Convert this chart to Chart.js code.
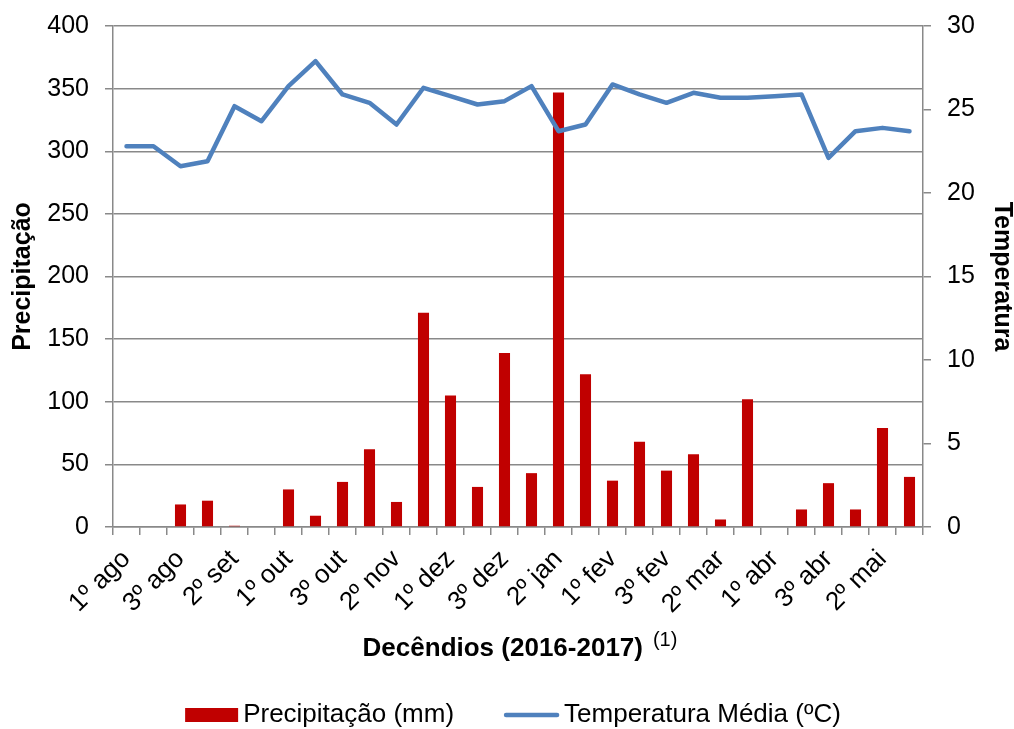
<!DOCTYPE html>
<html>
<head>
<meta charset="utf-8">
<script src="https://cdn.jsdelivr.net/npm/chart.js@4.4.1/dist/chart.umd.min.js"></script>
<style>
  html, body { margin: 0; padding: 0; background: #fff; }
  #wrap { width: 1014px; height: 729px; position: relative; }
</style>
</head>
<body>
<div id="wrap"><canvas id="c"></canvas></div>
<script>
const categories = ["1º ago","2º ago","3º ago","1º set","2º set","3º set","1º out","2º out","3º out","1º nov","2º nov","3º nov","1º dez","2º dez","3º dez","1º jan","2º jan","3º jan","1º fev","2º fev","3º fev","1º mar","2º mar","3º mar","1º abr","2º abr","3º abr","1º mai","2º mai","3º mai"];
const precipitacao = [0,0,18,21,1,0,30,9,36,62,20,171,105,32,139,43,347,122,37,68,45,58,6,102,0,14,35,14,79,40];
const temperatura = [22.8,22.8,21.6,21.9,25.2,24.3,26.4,27.9,25.9,25.4,24.1,26.3,25.8,25.3,25.5,26.4,23.7,24.1,26.5,25.9,25.4,26.0,25.7,25.7,25.8,25.9,22.1,23.7,23.9,23.7];
const precipTicks = [0,50,100,150,200,250,300,350,400];
const tempTicks = [0,5,10,15,20,25,30];
const seriesLabels = ["Precipitação (mm)", "Temperatura Média (ºC)"];
const axisTitles = { x: "Decêndios (2016-2017)", xNote: "(1)", yLeft: "Precipitação", yRight: "Temperatura" };

const FONT = '"Liberation Sans", Arial, sans-serif';
const GRID = '#898989';
const RED = '#C00000';
const BLUE = '#4F81BD';

const extras = {
  id: 'extras',
  afterDraw(chart) {
    const ctx = chart.ctx, ca = chart.chartArea;
    const midY = (ca.top + ca.bottom) / 2;
    const midX = (ca.left + ca.right) / 2;
    ctx.save();
    ctx.fillStyle = '#000';
    // right axis tick labels (left aligned)
    const y1 = chart.scales.y1;
    ctx.font = '25px ' + FONT;
    ctx.textAlign = 'left';
    ctx.textBaseline = 'middle';
    tempTicks.forEach(v => ctx.fillText(String(v), ca.right + 24, y1.getPixelForValue(v)));
    ctx.font = 'bold 25px ' + FONT;
    ctx.textAlign = 'center';
    ctx.textBaseline = 'middle';
    // left title
    ctx.save();
    ctx.translate(23, midY);
    ctx.rotate(-Math.PI / 2);
    ctx.fillText(axisTitles.yLeft, 0, 0);
    ctx.restore();
    // right title
    ctx.save();
    ctx.translate(1002, midY);
    ctx.rotate(Math.PI / 2);
    ctx.fillText(axisTitles.yRight, 0, 0);
    ctx.restore();
    // x title + superscript note
    ctx.textAlign = 'left';
    ctx.textBaseline = 'alphabetic';
    ctx.font = 'bold 26px ' + FONT;
    const mainW = ctx.measureText(axisTitles.x).width;
    ctx.font = '20px ' + FONT;
    const noteW = ctx.measureText(axisTitles.xNote).width;
    const gap = 10;
    const x0 = midX - (mainW + gap + noteW) / 2 + 2;
    ctx.font = 'bold 26px ' + FONT;
    ctx.fillText(axisTitles.x, x0, 656);
    ctx.font = '20px ' + FONT;
    ctx.fillText(axisTitles.xNote, x0 + mainW + gap, 646);
    // legend
    ctx.font = '26px ' + FONT;
    ctx.textBaseline = 'middle';
    const ly = 715;
    const boxW = 53, lineW = 55, sp = 5, between = 50;
    const t1 = ctx.measureText(seriesLabels[0]).width;
    const t2 = ctx.measureText(seriesLabels[1]).width;
    const total = boxW + sp + t1 + between + lineW + sp + t2;
    let x = midX - total / 2 - 5;
    ctx.fillStyle = RED;
    ctx.fillRect(x, ly - 7, boxW, 14);
    x += boxW + sp;
    ctx.fillStyle = '#000';
    ctx.fillText(seriesLabels[0], x, ly);
    x += t1 + between;
    ctx.strokeStyle = BLUE;
    ctx.lineWidth = 4.5;
    ctx.lineCap = 'round';
    ctx.beginPath();
    ctx.moveTo(x + 2, ly);
    ctx.lineTo(x + lineW - 2, ly);
    ctx.stroke();
    x += lineW + sp;
    ctx.fillText(seriesLabels[1], x, ly);
    ctx.restore();
  }
};

new Chart(document.getElementById('c'), {
  data: {
    labels: categories,
    datasets: [
      {
        type: 'line',
        label: seriesLabels[1],
        data: temperatura,
        yAxisID: 'y1',
        borderColor: BLUE,
        backgroundColor: BLUE,
        borderWidth: 4.5,
        pointRadius: 0,
        tension: 0,
        borderCapStyle: 'round',
        borderJoinStyle: 'round',
        order: 0
      },
      {
        type: 'bar',
        label: seriesLabels[0],
        data: precipitacao,
        yAxisID: 'y',
        backgroundColor: RED,
        barPercentage: 0.41,
        categoryPercentage: 1.0,
        order: 1
      }
    ]
  },
  options: {
    responsive: true,
    maintainAspectRatio: false,
    animation: false,
    layout: { padding: { top: 26, left: 0, right: 0, bottom: 0 } },
    plugins: { legend: { display: false }, tooltip: { enabled: false } },
    scales: {
      x: {
        offset: true,
        grid: { offset: true, drawOnChartArea: false, color: GRID, lineWidth: 1.5, tickLength: 8 },
        border: { color: GRID, width: 1.5 },
        ticks: {
          autoSkip: false,
          minRotation: 45, maxRotation: 45,
          padding: 9,
          color: '#000',
          font: { family: FONT, size: 26 },
          callback: function (v, i) { return i % 2 === 0 ? categories[i] : ''; }
        },
        afterFit: function (s) { s.height = 202; }
      },
      y: {
        position: 'left',
        min: 0, max: 400,
        afterBuildTicks: function (s) { s.ticks = precipTicks.map(v => ({ value: v })); },
        grid: { color: GRID, lineWidth: 1.5, tickLength: 8 },
        border: { color: GRID, width: 1.5 },
        ticks: { padding: 16, crossAlign: 'near', color: '#000', font: { family: FONT, size: 25, lineHeight: 0.8 } },
        afterFit: function (s) { s.width = 113; }
      },
      y1: {
        position: 'right',
        min: 0, max: 30,
        afterBuildTicks: function (s) { s.ticks = tempTicks.map(v => ({ value: v })); },
        grid: { drawOnChartArea: false, color: GRID, lineWidth: 1.5, tickLength: 8 },
        border: { color: GRID, width: 1.5 },
        ticks: { display: false },
        afterFit: function (s) { s.width = 91; }
      }
    }
  },
  plugins: [extras]
});
</script>
</body>
</html>
